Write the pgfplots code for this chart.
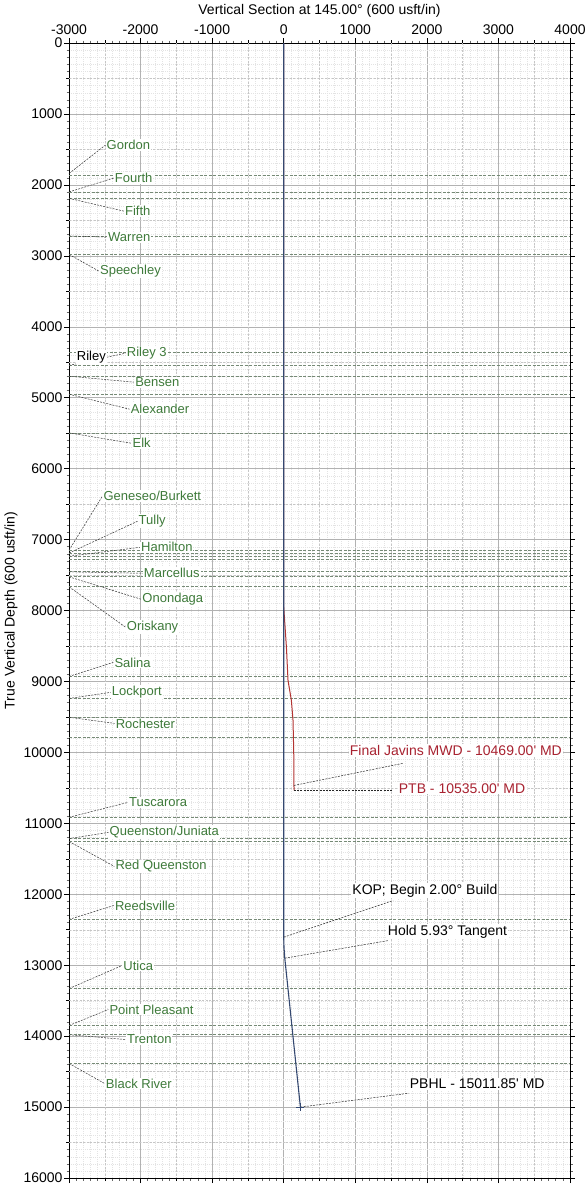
\documentclass[border=0pt]{standalone}
\usepackage{pgfplots}
\pgfplotsset{compat=1.18}
\usepackage{pgfplotstable}
\usepackage{fontspec}
\setmainfont{Liberation Sans}

\definecolor{formgreen}{RGB}{62,122,58}
\definecolor{formline}{RGB}{118,138,118}
\definecolor{planblue}{RGB}{52,72,112}
\definecolor{mwdred}{RGB}{178,52,50}
\definecolor{lblred}{RGB}{168,34,48}

% formation tops (TVD) drawn across the section
\pgfplotstableread{
d
1860
2105
2190
2720
2980
4360
4545
4697
4951
5496
7150
7190
7235
7280
7455
7525
7665
8930
9240
9505
9790
10915
11215
11255
12355
13330
13850
13980
14385
}\tops

% labels: name, TVD where the leader leaves the axis, label position
\pgfplotstableread[col sep=comma]{
name,d,lx,ly
Gordon,1840,-2490,1439
Fourth,2100,-2376,1904
Fifth,2190,-2233,2370
Warren,2720,-2469,2736
Speechley,2980,-2582,3216
Riley 3,4545,-2208,4372
Bensen,4697,-2091,4781
Alexander,4951,-2154,5162
Elk,5496,-2128,5642
Geneseo/Burkett,7150,-2534,6389
Tully,7190,-2043,6742
Hamilton,7235,-2008,7109
Marcellus,7455,-1969,7475
Onondaga,7525,-1990,7842
Oriskany,7665,-2207,8237
Salina,8930,-2381,8731
Lockport,9240,-2418,9154
Rochester,9505,-2363,9591
Tuscarora,10915,-2176,10705
Queenston/Juniata,11215,-2448,11128
Red Queenston,11255,-2366,11608
Reedsville,12355,-2373,12158
Utica,13330,-2257,13004
Point Pleasant,13850,-2450,13625
Trenton,13980,-2204,14048
Black River,14385,-2500,14669
}\forms

\begin{document}
\begin{tikzpicture}
\begin{axis}[
  scale only axis,
  width=501pt, height=1135pt,
  xmin=-3000, xmax=4000,
  ymin=0, ymax=16000,
  y dir=reverse,
  scaled ticks=false,
  xticklabel pos=upper,
  xtick={-3000,-2000,...,4000},
  ytick={0,1000,...,16000},
  minor tick num=9,
  extra x ticks={-2500,-1500,...,3500},
  extra y ticks={500,1500,...,15500},
  extra x tick labels={}, extra y tick labels={},
  extra tick style={grid=major, major grid style={gray!45, dash pattern=on 2pt off 1.5pt, line width=0.4pt}, major tick length=3pt},
  tick align=outside,
  major tick length=5pt,
  minor tick length=2.5pt,
  tick style={black, line width=0.5pt},
  minor tick style={black!60},
  grid=both,
  major grid style={gray!60, line width=0.5pt},
  minor grid style={gray!22, dash pattern=on 1pt off 1pt, line width=0.3pt},
  axis line style={black, line width=0.7pt},
  /pgf/number format/assume math mode=true,
  /pgf/number format/1000 sep={},
  tick label style={font=\fontsize{14}{16}\selectfont},
  yticklabel style={xshift=2pt},
  xlabel={Vertical Section at 145.00° (600 usft/in)},
  ylabel={True Vertical Depth (600 usft/in)},
  label style={font=\fontsize{14}{16}\selectfont},
  xlabel style={yshift=-8pt},
  ylabel style={at={(rel axis cs:0,0.5)}, anchor=center, yshift=58pt},
  clip=false,
]
% formation lines
\addplot[formline, line width=0.7pt, dash pattern=on 3pt off 1.5pt,
  quiver={u=7000, v=0}] table[x expr=-3000, y=d] {\tops};
% leaders from the axis edge to the names
\addplot[black!80, line width=0.5pt, dash pattern=on 2pt off 1.2pt,
  quiver={u=\thisrow{lx}+3000, v=\thisrow{ly}-\thisrow{d}}]
  table[x expr=-3000, y=d] {\forms};
% names
\addplot[only marks, mark=none, nodes near coords, point meta=explicit symbolic,
  nodes near coords style={anchor=west, fill=white, inner sep=1pt,
    text=formgreen, font=\fontsize{13}{15}\selectfont}]
  table[x=lx, y=ly, meta=name] {\forms};
\node[anchor=west, fill=white, inner sep=1pt, font=\fontsize{13}{15}\selectfont]
  at (axis cs:-2906,4429) {Riley};

% well paths
\addplot[mwdred, line width=1pt] coordinates {
  (0,0) (0,7950) (38,8520) (60,8985) (107,9266) (130,9548) (140,10000) (144,10535)};
\addplot[planblue, line width=1.1pt] coordinates {
  (0,0) (0,12605) (4,12750) (15,12901) (233,15000)};
\addplot[planblue, only marks, mark=+, mark size=4pt, mark options={line width=0.8pt}] coordinates {(233,15000)};

% annotations
\tikzset{lead/.style={black!85, line width=0.5pt, dash pattern=on 2pt off 1.2pt},
  ann/.style={anchor=west, fill=white, inner sep=1pt, font=\fontsize{14}{16}\selectfont}}
\draw[lead] (axis cs:144,10466) -- (axis cs:1662,10155);
\node[ann, text=lblred] at (axis cs:908,9972) {Final Javins MWD - 10469.00\textquotesingle{} MD};
\draw[lead] (axis cs:144,10535) -- (axis cs:1518,10535);
\node[ann, text=lblred] at (axis cs:1592,10508) {PTB - 10535.00\textquotesingle{} MD};
\draw[lead] (axis cs:0,12605) -- (axis cs:1529,12088);
\node[ann] at (axis cs:943,11946) {KOP; Begin 2.00° Build};
\draw[lead] (axis cs:15,12901) -- (axis cs:1466,12652);
\node[ann] at (axis cs:1439,12525) {Hold 5.93° Tangent};
\draw[lead] (axis cs:233,15000) -- (axis cs:1746,14805);
\node[ann] at (axis cs:1746,14669) {PBHL - 15011.85\textquotesingle{} MD};
\end{axis}
\pgfresetboundingbox
\path ([shift={(-69pt,-10pt)}]current axis.south west) rectangle ([shift={(14pt,43pt)}]current axis.north east);
\end{tikzpicture}
\end{document}
